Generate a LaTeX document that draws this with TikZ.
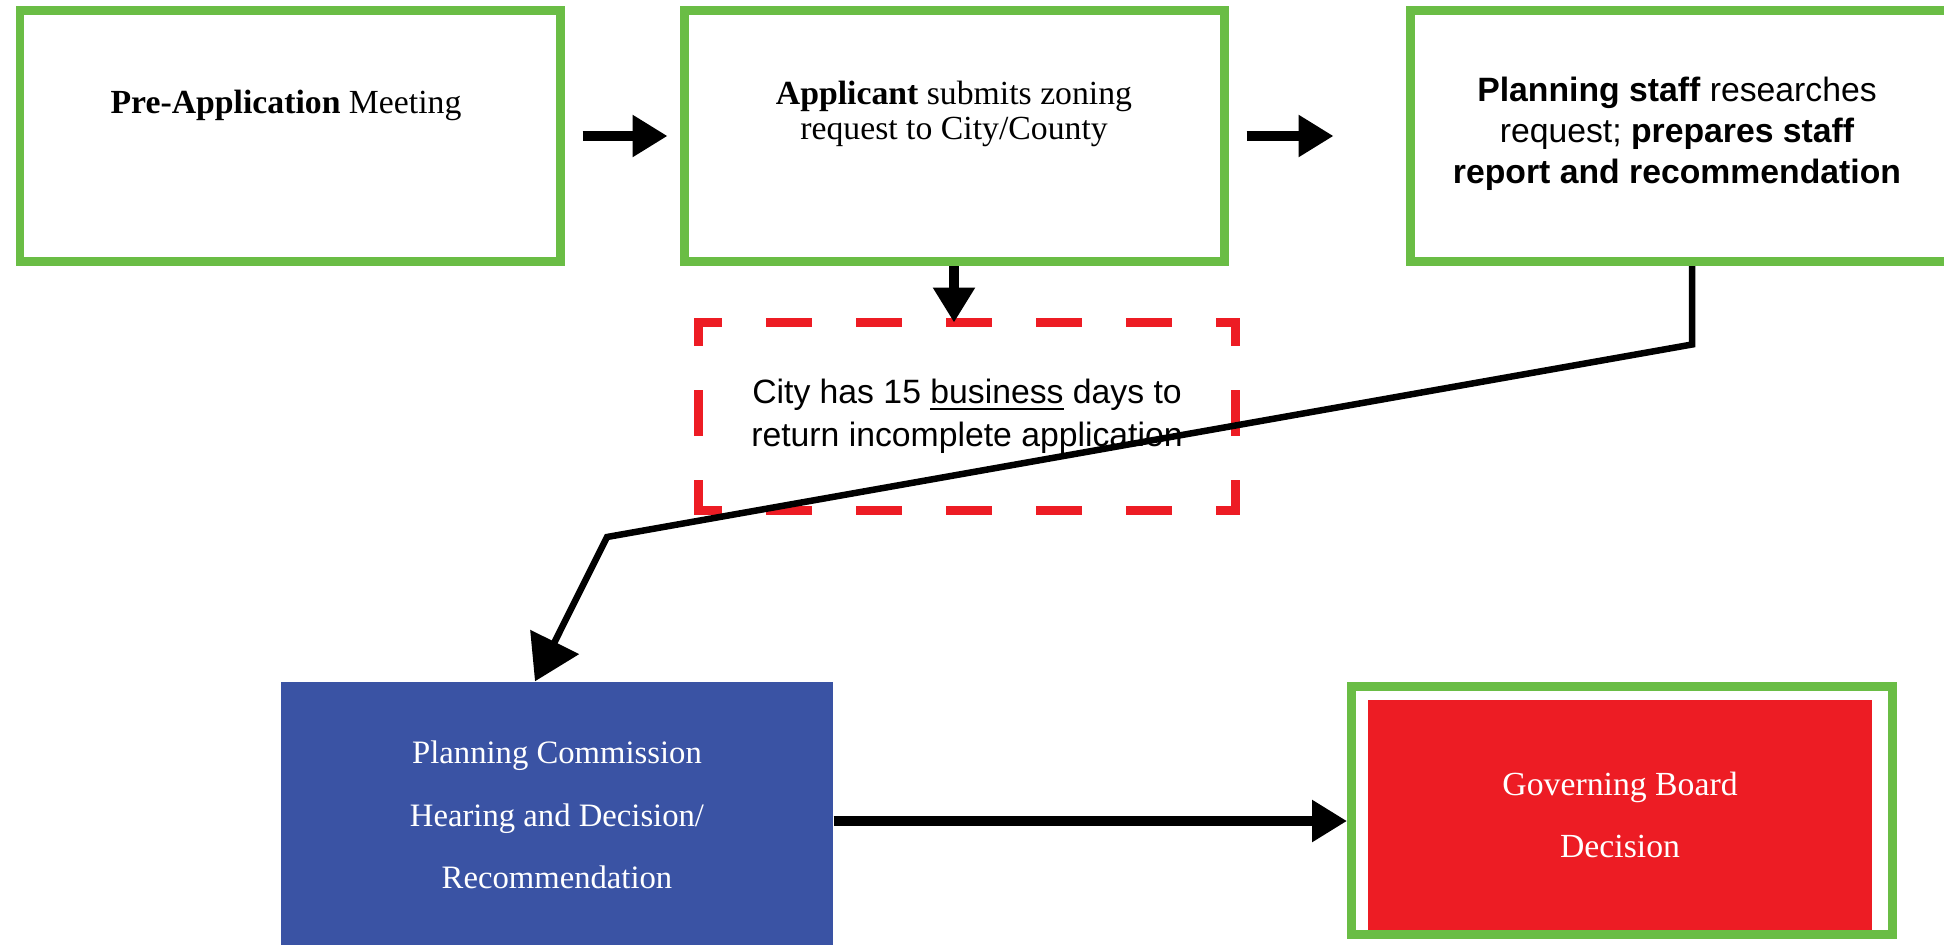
\documentclass[tikz,border=0pt]{standalone}
\usepackage{fontspec}
\setmainfont{Liberation Serif}
\newfontfamily\staffsans{Liberation Sans}
\usepackage{tikz}
\usetikzlibrary{positioning,arrows.meta}

\definecolor{stepgreen}{HTML}{6ABD45}
\definecolor{stepred}{HTML}{ED1C24}
\definecolor{stepblue}{HTML}{3A53A4}

\begin{document}
\begin{tikzpicture}[
stepnode/.style={rectangle, draw=stepgreen, line width=0.09cm, minimum width=5.4cm, minimum height=2.51cm},
serifnode/.style={align=center, font=\fontsize{9.6}{9.8}\selectfont},
sansnode/.style={align=center, font=\staffsans\fontsize{9.6}{11.6}\selectfont},
returnnode/.style={rectangle, outer sep=0pt, minimum width=5.37cm, minimum height=1.88cm, align=center, font=\staffsans\fontsize{9.6}{12.2}\selectfont},
returnline/.style={draw=stepred, line width=0.09cm, line cap=rect, dash pattern=on 0.37cm off 0.53cm, dash phase=0.185cm},
hearingnode/.style={rectangle, fill=stepblue, text=white, minimum width=5.52cm, minimum height=2.66cm, align=center, font=\fontsize{9.3}{17.7}\selectfont},
boardframe/.style={rectangle, draw=stepgreen, line width=0.09cm, minimum width=5.41cm, minimum height=2.48cm},
boardnode/.style={rectangle, fill=stepred, text=white, minimum width=5.04cm, minimum height=2.3cm, align=center, font=\fontsize{9.6}{17.6}\selectfont},
flowarrow/.style={-{Triangle[length=0.35cm, width=0.4cm]}, line width=0.1cm},
longarrow/.style={-{Triangle[length=0.44cm, width=0.53cm]}, line width=0.065cm},
]
\useasboundingbox (0,0) rectangle (19.44,-9.44);

% Top row of steps
\node[stepnode] (pre) at (2.9,-1.36) {};
\node[stepnode] (submit) [right=1.15cm of pre] {};
\node[stepnode] (staff) [right=1.77cm of submit] {};

\node[serifnode] (pre_txt) at ([xshift=-0.04cm, yshift=-0.99cm]pre.north) {\textbf{Pre-Application} Meeting};
\node[serifnode] (submit_txt) at ([yshift=-1.08cm]submit.north) {\textbf{Applicant} submits zoning\\request to City/County};
\node[sansnode] (staff_txt) at ([xshift=-0.03cm, yshift=-1.28cm]staff.north) {\textbf{Planning staff} researches\\request; \textbf{prepares staff}\\\textbf{report and recommendation}};

% Incomplete application note
\node[returnnode] (ret) [below=0.565cm of submit, xshift=0.13cm] {City has 15 \underline{business} days to\\return incomplete application};
\draw[returnline] (ret.north west) -- (ret.north east);
\draw[returnline] (ret.north east) -- (ret.south east);
\draw[returnline] (ret.south west) -- (ret.south east);
\draw[returnline] (ret.north west) -- (ret.south west);

% Bottom row
\node[hearingnode] (pc) at (5.57,-8.15) {Planning Commission\\Hearing and Decision/\\Recommendation};
\node[boardframe] (gb_frame) at (16.22,-8.105) {};
\node[boardnode] (gb) at ([xshift=-0.02cm, yshift=-0.045cm]gb_frame.center) {Governing Board\\Decision};

% Arrows between steps
\draw[flowarrow, shorten <=0.18cm, shorten >=0.12cm] (pre) -- (submit);
\draw[flowarrow, shorten <=0.18cm, shorten >=0.72cm] (submit) -- (staff);
\draw[flowarrow] (submit.south) -- (submit.south |- ret.north);

% Staff report goes down to the commission
\coordinate (kneeA) at ([xshift=0.12cm, yshift=-0.785cm]staff.south);
\coordinate (kneeB) at (6.07,-5.37);
\draw[longarrow] ([xshift=0.12cm]staff.south) -- (kneeA) -- (kneeB) -- ([xshift=-0.22cm]pc.north);

% Commission to governing board
\coordinate (pc_out) at ([yshift=-0.06cm]pc.east);
\draw[flowarrow] (pc_out) -- (pc_out -| gb_frame.west);

\end{tikzpicture}
\end{document}
